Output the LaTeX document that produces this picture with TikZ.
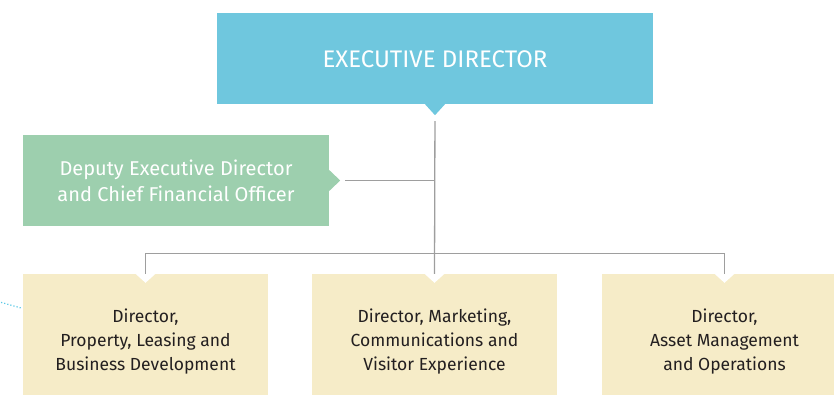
\documentclass[tikz,border=0pt]{standalone}
\usepackage{fontspec}
\setmainfont{Fira Sans}
\usetikzlibrary{positioning}
\definecolor{execblue}{HTML}{6FC7DE}
\definecolor{deputygreen}{HTML}{9DCFAE}
\definecolor{dirsand}{HTML}{F6ECC8}
\definecolor{linegray}{HTML}{9E9E9E}
\definecolor{dotcyan}{HTML}{5BC8E6}
\definecolor{textdark}{HTML}{231F20}
\newcommand{\lowered}[2]{\vphantom{\begin{tabular}{@{}c@{}}#2\end{tabular}}%
  \raisebox{-#1}[0pt][0pt]{\begin{tabular}{@{}c@{}}#2\end{tabular}}}
\tikzset{
  box/.style={rectangle, inner sep=0pt, align=center},
  dirbox/.style={box, fill=dirsand, text=textdark, minimum width=245pt, minimum height=136pt,
    font=\fontsize{17.5}{24}\selectfont},
  conn/.style={draw=linegray, line width=1.3pt}
}

\begin{document}
\begin{tikzpicture}[line cap=butt,line join=miter,x=1pt,y=1pt]
    \useasboundingbox (0,0) rectangle (834,394);
    \clip (0,0) rectangle (834,394);

    % Boxes
    \draw(435,335.5) node[box, fill=execblue, text=white, minimum width=436pt, minimum height=91pt,
        font=\fontsize{24}{28}\selectfont] (exec) {\lowered{3pt}{EXECUTIVE DIRECTOR}};
    \fill[execblue] ([xshift=-10pt]exec.south) -- ([xshift=10pt]exec.south) -- ([yshift=-11pt]exec.south) -- cycle;

    \draw(176,213.5) node[box, fill=deputygreen, text=white, minimum width=306pt, minimum height=91pt,
        font=\fontsize{20}{26}\selectfont] (deputy) {\lowered{2.5pt}{Deputy Executive Director\\and Chief Financial Officer}};
    \fill[deputygreen] ([yshift=10.5pt]deputy.east) -- ([yshift=-10.5pt]deputy.east) -- ([xshift=11pt]deputy.east) -- cycle;

    \draw(145.5,52) node[dirbox] (dirprop) {Director,\\Property, Leasing and\\Business Development};
    \draw(434.5,52) node[dirbox] (dirmkt) {Director, Marketing,\\Communications and\\Visitor Experience};
    \draw(724.5,52) node[dirbox] (dirasset) {Director,\\Asset Management\\and Operations};

    % Notches
    \foreach \dir in {dirprop, dirmkt, dirasset} {
            \fill[white] ([xshift=-10pt]\dir.north) -- ([xshift=10pt]\dir.north) -- ([yshift=-9pt]\dir.north) -- cycle;
        }

    % Edges
    \draw[conn, shorten <=17pt] (exec.south) -- (dirmkt.north);
    \draw[conn, shorten <=16pt] (deputy.east) -- (deputy.east -| exec.south);
    \draw[conn] (dirprop.north) -- ++(0,20) -| (dirasset.north);

    % Link from the left
    \coordinate (lnk) at (21,86);
    \draw[dotcyan, line width=1.2pt, dotted] (-2,92.5) -- (lnk);
\end{tikzpicture}
\end{document}
